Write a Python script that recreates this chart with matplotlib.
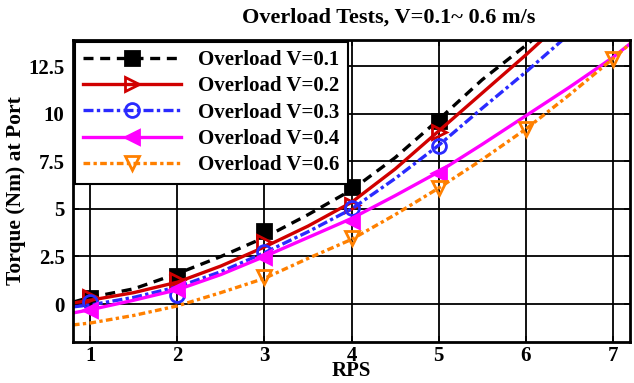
import numpy as np
import matplotlib
matplotlib.use("Agg")
import matplotlib.pyplot as plt

plt.rcParams['font.family'] = ['Liberation Serif', 'DejaVu Serif']
plt.rcParams['font.weight'] = 'bold'

# curve samples (RPS -> torque)
x_line = [0.8, 1, 1.5, 2, 2.5, 3, 3.5, 4, 4.5, 5, 5.5, 6, 6.5, 7, 7.2]
v01_line = [0.1, 0.35, 0.8, 1.6, 2.5, 3.5, 4.7, 6.0, 7.7, 9.7, 11.8, 13.6, 15.5, 17.5, 18.3]
v02_line = [0.05, 0.2, 0.6, 1.15, 2.0, 3.0, 4.1, 5.35, 7.1, 9.1, 11.1, 13.1, 15.2, 17.3, 18.1]
v03_line = [-0.15, -0.05, 0.35, 0.9, 1.7, 2.7, 3.8, 5.0, 6.6, 8.35, 10.3, 12.2, 14.2, 16.2, 17.0]
v04_line = [-0.47, -0.3, 0.2, 0.75, 1.55, 2.5, 3.5, 4.5, 5.7, 6.95, 8.4, 9.9, 11.4, 12.97, 13.7]
v06_line = [-1.1, -1.0, -0.6, -0.1, 0.6, 1.35, 2.4, 3.4, 4.7, 6.1, 7.6, 9.2, 11.0, 12.9, 13.7]

# measured points
x_pts = [1, 2, 3, 4, 5]
v01_pts = [0.3, 1.45, 3.85, 6.15, 9.65]
v02_pts = [0.35, 1.25, 3.25, 5.2, 9.05]
v03_pts = [0.1, 0.5, 2.75, 5.05, 8.3]
v04_pts = [-0.3, 0.8, 2.45, 4.35, 6.9]
x_pts6 = [3, 4, 5, 6, 7]
v06_pts = [1.4, 3.45, 6.1, 9.2, 12.9]

labels = ['Overload V=0.1', 'Overload V=0.2', 'Overload V=0.3',
          'Overload V=0.4', 'Overload V=0.6']

fig = plt.figure(figsize=(6.34, 3.83), dpi=100)
ax = fig.add_axes([0.115, 0.107, 0.879, 0.789])

series = [
    (x_line, v01_line, x_pts, v01_pts, 'black', (0, (3, 2)), 's', 'black'),
    (x_line, v02_line, x_pts, v02_pts, '#d00000', '-', '>', 'none'),
    (x_line, v03_line, x_pts, v03_pts, '#2a2aff', (0, (3, 1, 1, 1)), 'o', 'none'),
    (x_line, v04_line, x_pts, v04_pts, '#ff00ff', '-', '<', '#ff00ff'),
    (x_line, v06_line, x_pts6, v06_pts, '#ff8000', (0, (2, 1, 1, 1)), 'v', 'none'),
]

for (xl, yl, xp, yp, c, ls, m, fc), lab in zip(series, labels):
    ax.plot(xl, yl, color=c, ls=ls, lw=2.4)
    ax.plot(xp, yp, ls='none', marker=m, color=c, mfc=fc, mec=c, ms=10, mew=2)
    ax.plot([], [], color=c, ls=ls, lw=2.4, marker=m, mfc=fc, mec=c, ms=10,
            mew=2, label=lab)

ax.set_xlim(0.8, 7.2)
ax.set_ylim(-2, 13.9)
ax.set_xticks([1, 2, 3, 4, 5, 6, 7])
ax.set_yticks([0, 2.5, 5, 7.5, 10, 12.5])
ax.set_yticklabels(['0', '2.5', '5', '7.5', '10', '12.5'])
ax.grid(True, color='black', lw=1.3)
ax.tick_params(direction='in', length=4, width=1.2, labelsize=15,
               top=True, right=True, pad=6)
ax.tick_params(axis='x', pad=3)
for sp in ax.spines.values():
    sp.set_linewidth(2)

ax.set_xlabel('RPS', fontsize=15, fontweight='bold', labelpad=-4)
ax.set_ylabel('Torque (Nm) at Port', fontsize=15.5, fontweight='bold', labelpad=2)
fig.text(0.613, 0.955, 'Overload Tests, V=0.1~ 0.6 m/s', ha='center',
         va='center', fontsize=16, fontweight='bold')

leg = ax.legend(loc='upper left', fontsize=15, handlelength=4.7,
                fancybox=False, framealpha=1, edgecolor='black',
                borderaxespad=0.1, labelspacing=0.3, borderpad=0.4,
                handletextpad=0.8)
leg.get_frame().set_linewidth(1.5)
for t in leg.get_texts():
    t.set_fontweight('bold')

fig.savefig('out.png', dpi=100)
